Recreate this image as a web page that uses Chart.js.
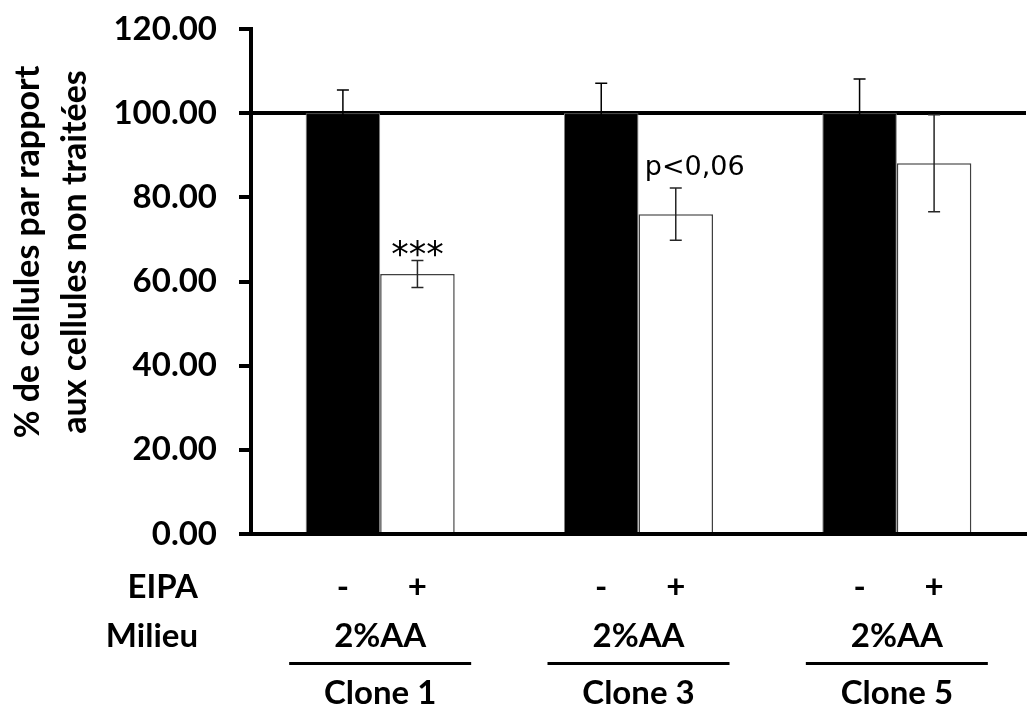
<!DOCTYPE html>
<html lang="fr">
<head>
<meta charset="UTF-8">
<title>EIPA - clones</title>
<script src="https://cdn.jsdelivr.net/npm/chart.js"></script>
<style>
  body { margin: 0; background: #fff; }
  #wrap { width: 1031px; height: 710px; }
</style>
</head>
<body>
<div id="wrap"><canvas id="chart"></canvas></div>
<script>
const clones = ["Clone 1", "Clone 3", "Clone 5"];
const sansEipa = [100, 100, 100];
const sansEipaErr = [5.5, 7.1, 8.1];
const avecEipa = [61.8, 76.0, 88.1];
const avecEipaErr = [3.2, 6.2, 11.5];
const eipaSigns = ["-", "+"];
const milieu = ["2%AA", "2%AA", "2%AA"];
const notes = ["***", "p<0,06", ""];
const yTicks = [0, 20, 40, 60, 80, 100, 120];
const yTitle = ["% de cellules par rapport", "aux cellules non traitées"];

const errors = [sansEipaErr, avecEipaErr];
const errColors = ["#000", "#262626"];
const boldFont = size => "bold " + size + "px Lato";

// barres d'erreur + annotations
const errorBars = {
    id: "errorBars",
    afterDatasetsDraw(chart) {
        const ctx = chart.ctx;
        const y = chart.scales.y;
        ctx.save();
        ctx.lineWidth = 1.5;
        chart.data.datasets.forEach((ds, d) => {
            ctx.strokeStyle = errColors[d];
            chart.getDatasetMeta(d).data.forEach((bar, i) => {
                const top = y.getPixelForValue(ds.data[i] + errors[d][i]);
                const bot = y.getPixelForValue(ds.data[i] - errors[d][i]);
                ctx.beginPath();
                ctx.moveTo(bar.x, top); ctx.lineTo(bar.x, bot);
                ctx.moveTo(bar.x - 6, top); ctx.lineTo(bar.x + 6, top);
                ctx.moveTo(bar.x - 6, bot); ctx.lineTo(bar.x + 6, bot);
                ctx.stroke();
            });
        });
        // annotations au-dessus des barres EIPA +
        ctx.fillStyle = "#000";
        ctx.textAlign = "center";
        ctx.textBaseline = "alphabetic";
        chart.getDatasetMeta(1).data.forEach((bar, i) => {
            if (!notes[i]) return;
            const top = y.getPixelForValue(avecEipa[i] + avecEipaErr[i]);
            if (notes[i] === "***") {
                ctx.font = "35px 'DejaVu Sans'";
                ctx.fillText(notes[i], bar.x, top + 6);
            } else {
                ctx.font = "27px 'DejaVu Sans'";
                ctx.fillText(notes[i], bar.x + 19, top - 13);
            }
        });
        ctx.restore();
    }
};

// titre de l'axe y et étiquettes sous l'axe x
const labels = {
    id: "labels",
    afterDraw(chart) {
        const ctx = chart.ctx;
        const x = chart.scales.x;
        ctx.save();
        ctx.fillStyle = "#000";
        ctx.textBaseline = "middle";

        ctx.save();
        ctx.font = boldFont(34);
        ctx.textAlign = "center";
        ctx.translate(0, 252);
        ctx.rotate(-Math.PI / 2);
        ctx.fillText(yTitle[0], 0, 28);
        ctx.fillText(yTitle[1], 0, 75);
        ctx.restore();

        ctx.font = boldFont(33);
        ctx.textAlign = "right";
        ctx.fillText("EIPA", 198, 587);
        ctx.fillText("Milieu", 198, 636);

        ctx.textAlign = "center";
        clones.forEach((c, i) => {
            chart.data.datasets.forEach((ds, d) => {
                ctx.fillText(eipaSigns[d], chart.getDatasetMeta(d).data[i].x, 587);
            });
            const cx = x.getPixelForValue(i);
            ctx.fillText(milieu[i], cx, 636);
            ctx.fillText(c, cx, 693);
            ctx.fillRect(cx - 91, 662, 182, 3);
        });
        ctx.restore();
    }
};

new Chart(document.getElementById("chart"), {
    type: "bar",
    data: {
        labels: clones,
        datasets: [{
            label: "EIPA -",
            data: sansEipa,
            backgroundColor: "#000",
            borderColor: "#7f7f7f",
            borderWidth: 1,
            barPercentage: 1,
            categoryPercentage: 0.577
        }, {
            label: "EIPA +",
            data: avecEipa,
            backgroundColor: "#fff",
            borderColor: "#404040",
            borderWidth: 1.5,
            barPercentage: 1,
            categoryPercentage: 0.577
        }]
    },
    options: {
        responsive: true,
        maintainAspectRatio: false,
        animation: false,
        layout: { padding: { left: 0, top: 29, right: 5, bottom: 176 } },
        plugins: {
            legend: { display: false },
            tooltip: { enabled: false }
        },
        scales: {
            x: {
                ticks: { display: false },
                grid: { display: false, drawTicks: false },
                border: { display: true, color: "#000", width: 4 },
                afterFit: s => { s.height = 0; }
            },
            y: {
                min: 0,
                max: 120,
                afterBuildTicks: s => { s.ticks = yTicks.map(v => ({ value: v })); },
                ticks: {
                    callback: v => v.toFixed(2),
                    color: "#000",
                    font: { family: "Lato", weight: "bold", size: 33 },
                    padding: 22
                },
                grid: {
                    color: c => (c.tick && c.tick.value === 100) ? "#000" : "rgba(0,0,0,0)",
                    lineWidth: 4,
                    tickColor: "#000",
                    tickLength: 12,
                    tickWidth: 4
                },
                border: { color: "#000", width: 4 },
                afterFit: s => {
                    s.width = 251;
                    s.paddingTop = 0;
                    s.paddingBottom = 0;
                }
            }
        }
    },
    plugins: [errorBars, labels]
});
</script>
</body>
</html>
